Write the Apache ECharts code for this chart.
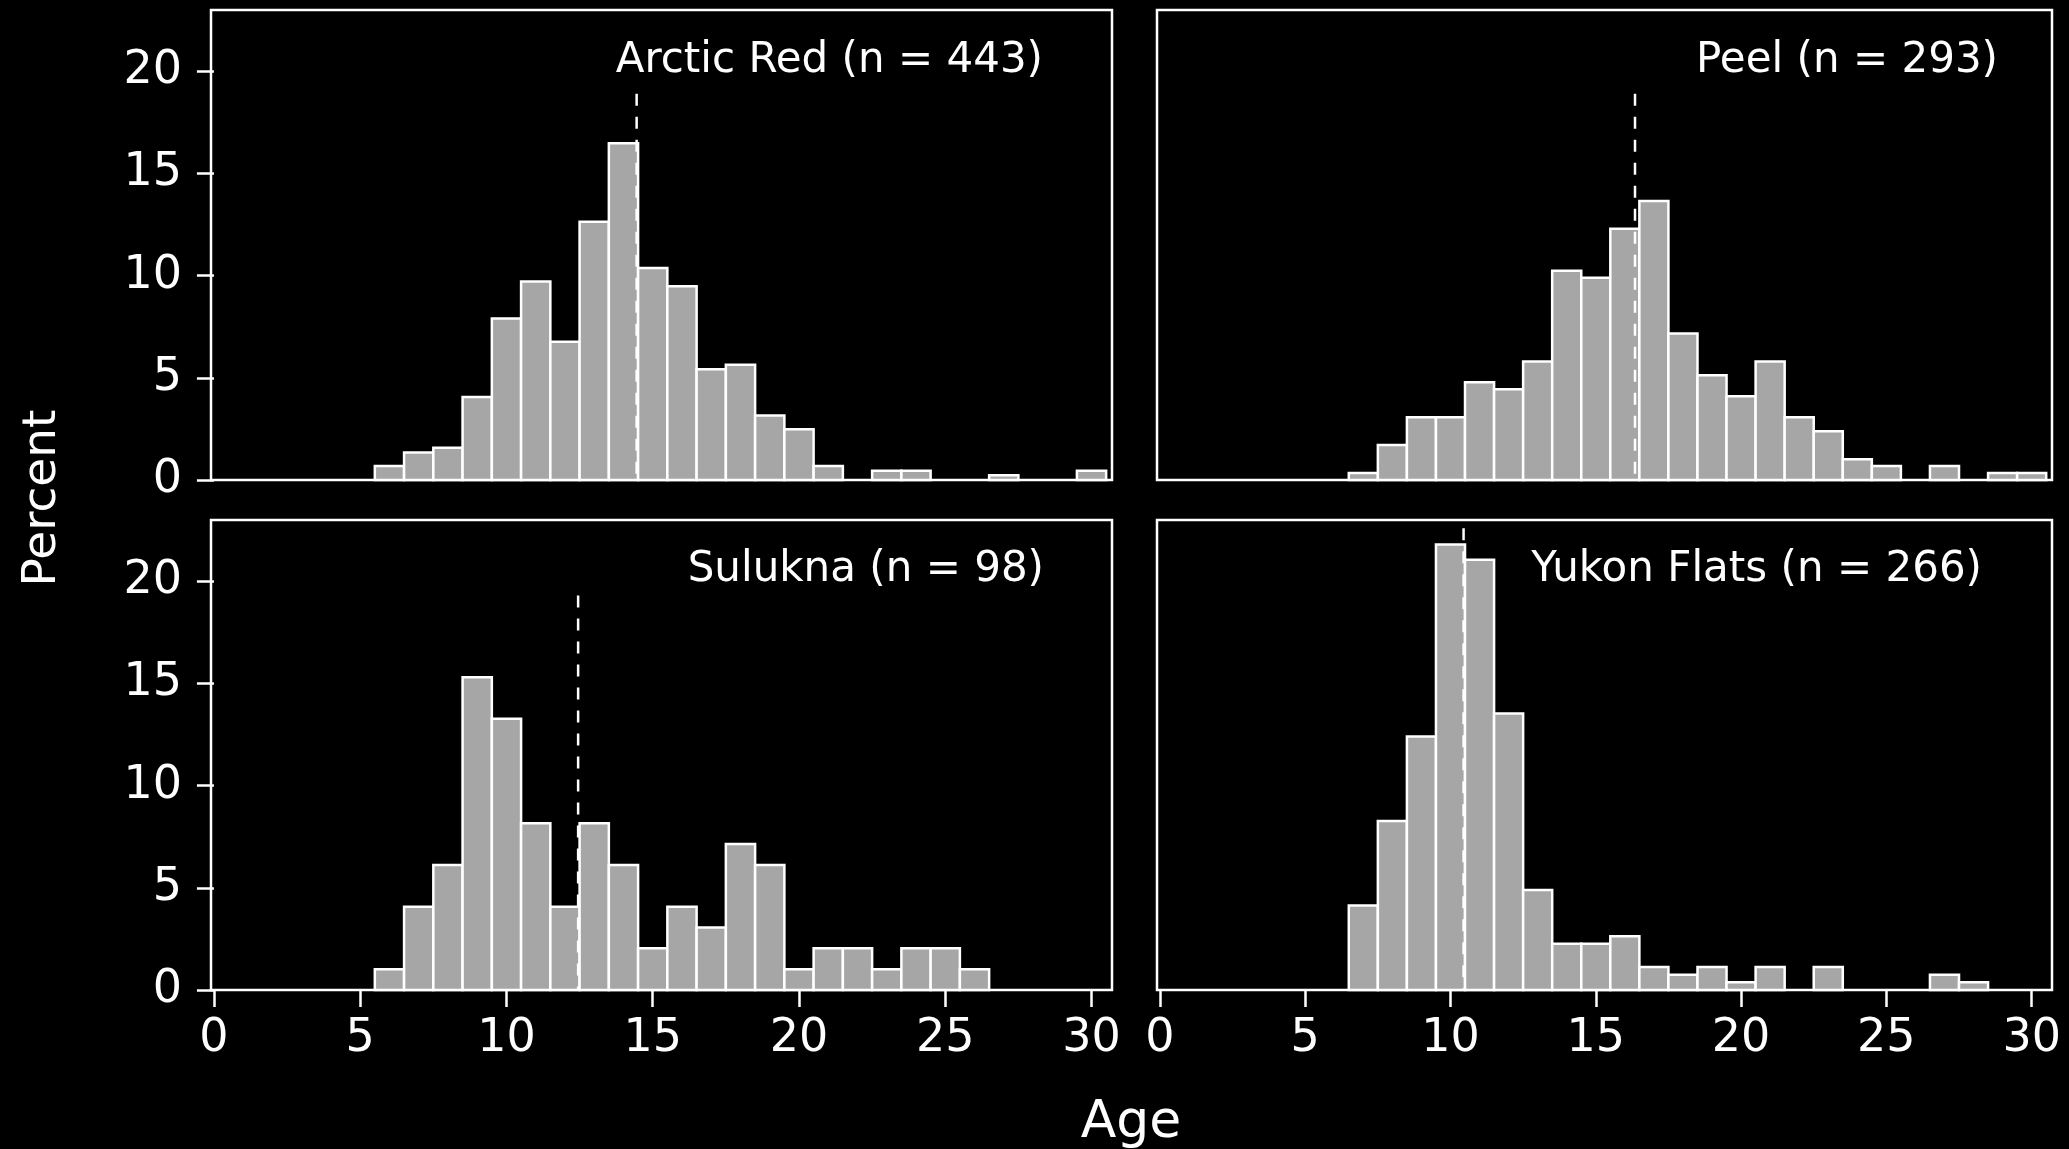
<!DOCTYPE html>
<html>
<head>
<meta charset="utf-8">
<script src="https://cdn.jsdelivr.net/npm/echarts@6/dist/echarts.min.js"></script>
<style>
html,body{margin:0;padding:0;background:#000;}
#c{width:2069px;height:1149px;}
</style>
</head>
<body>
<div id="c"></div>
<script>
// ---- data ----
const panelTitles = ['Arctic Red (n = 443)', 'Peel (n = 293)', 'Sulukna (n = 98)', 'Yukon Flats (n = 266)'];

const arcticAges = [6,7,8,9,10,11,12,13,14,15,16,17,18,19,20,21,23,24,27,30];
const arcticPct  = [0.68,1.35,1.58,4.06,7.90,9.71,6.77,12.64,16.48,10.38,9.48,5.42,5.64,3.16,2.48,0.68,0.45,0.45,0.23,0.45];

const peelAges = [7,8,9,10,11,12,13,14,15,16,17,18,19,20,21,22,23,24,25,27,29,30];
const peelPct  = [0.34,1.71,3.07,3.07,4.78,4.44,5.80,10.24,9.90,12.29,13.65,7.17,5.12,4.10,5.80,3.07,2.39,1.02,0.68,0.68,0.34,0.34];

const suluknaAges = [6,7,8,9,10,11,12,13,14,15,16,17,18,19,20,21,22,23,24,25,26];
const suluknaPct  = [1.02,4.08,6.12,15.31,13.27,8.16,4.08,8.16,6.12,2.04,4.08,3.06,7.14,6.12,1.02,2.04,2.04,1.02,2.04,2.04,1.02];

const yukonAges = [7,8,9,10,11,12,13,14,15,16,17,18,19,20,21,23,27,28];
const yukonPct  = [4.14,8.27,12.41,21.80,21.05,13.53,4.89,2.26,2.26,2.63,1.13,0.75,1.13,0.38,1.13,1.13,0.75,0.38];

const refLineAge = [14.45, 16.35, 12.45, 10.45];
const refLineTop = [18.9, 18.9, 19.3, 22.6];

const xTicks = [0,5,10,15,20,25,30];
const yTicks = [0,5,10,15,20];

const xLabel = 'Age';
const yLabel = 'Percent';

// ---- build chart ----
const FONT = 'DejaVu Sans';
const panels = [
  {ages: arcticAges, pct: arcticPct},
  {ages: peelAges, pct: peelPct},
  {ages: suluknaAges, pct: suluknaPct},
  {ages: yukonAges, pct: yukonPct}
];
const gridRects = [
  {left: 211, top: 10, width: 901, height: 470},
  {left: 1157, top: 10, width: 895, height: 470},
  {left: 211, top: 520, width: 901, height: 470},
  {left: 1157, top: 520, width: 895, height: 470}
];
const titlePos = [
  {right: 1026, top: 40},
  {right: 71, top: 40},
  {right: 1025, top: 549},
  {right: 87, top: 549}
];

function renderBar(params, api) {
  const a = api.value(0), v = api.value(1);
  const p0 = api.coord([a - 0.5, v]);
  const p1 = api.coord([a + 0.5, 0]);
  return {
    type: 'rect',
    shape: {x: p0[0], y: p0[1], width: p1[0] - p0[0], height: p1[1] - p0[1]},
    style: {fill: '#a6a6a6', stroke: '#ffffff', lineWidth: 2.5}
  };
}

const grids = [], xAxes = [], yAxes = [], series = [], titles = [];
panels.forEach((p, i) => {
  const isBottom = i >= 2, isLeft = i % 2 === 0;
  grids.push(Object.assign({show: true, borderColor: '#ffffff', borderWidth: 2.5, backgroundColor: '#000'}, gridRects[i]));
  xAxes.push({
    type: 'value', gridIndex: i, min: -0.1, max: 30.7,
    axisLine: {show: false},
    splitLine: {show: false},
    axisTick: {show: isBottom, customValues: xTicks, length: 17, lineStyle: {color: '#fff', width: 2.5}},
    axisLabel: {show: isBottom, customValues: xTicks, margin: 26, color: '#fff', fontSize: 46, fontFamily: FONT}
  });
  yAxes.push({
    type: 'value', gridIndex: i, min: 0, max: 23,
    axisLine: {show: false},
    splitLine: {show: false},
    axisTick: {show: isLeft, customValues: yTicks, length: 17, lineStyle: {color: '#fff', width: 2.5}},
    axisLabel: {show: isLeft, customValues: yTicks, margin: 29, color: '#fff', fontSize: 46, fontFamily: FONT}
  });
  series.push({
    type: 'custom', xAxisIndex: i, yAxisIndex: i,
    renderItem: renderBar,
    encode: {x: 0, y: 1},
    data: p.ages.map((a, k) => [a, p.pct[k]]),
    z: 2
  });
  series.push({
    type: 'line', xAxisIndex: i, yAxisIndex: i,
    data: [[refLineAge[i], refLineTop[i]], [refLineAge[i], 0]],
    symbol: 'none', silent: true,
    lineStyle: {color: '#ffffff', width: 2.5, type: [12, 11]},
    z: 3
  });
  titles.push(Object.assign({
    text: panelTitles[i], padding: 0,
    textStyle: {color: '#fff', fontSize: 42, fontWeight: 'normal', fontFamily: FONT}
  }, titlePos[i]));
});

const chart = echarts.init(document.getElementById('c'), null, {renderer: 'canvas'});
chart.setOption({
  backgroundColor: '#000',
  animation: false,
  title: titles,
  grid: grids,
  xAxis: xAxes,
  yAxis: yAxes,
  series: series,
  graphic: [
    {
      type: 'text', x: 43, y: 498, rotation: Math.PI / 2,
      style: {text: yLabel, fill: '#fff', font: '47px "DejaVu Sans"',
        align: 'center', verticalAlign: 'middle', textAlign: 'center', textVerticalAlign: 'middle'}
    },
    {
      type: 'text', x: 1131, y: 1123,
      style: {text: xLabel, fill: '#fff', font: '52px "DejaVu Sans"',
        align: 'center', verticalAlign: 'middle', textAlign: 'center', textVerticalAlign: 'middle'}
    }
  ]
});
</script>
</body>
</html>
